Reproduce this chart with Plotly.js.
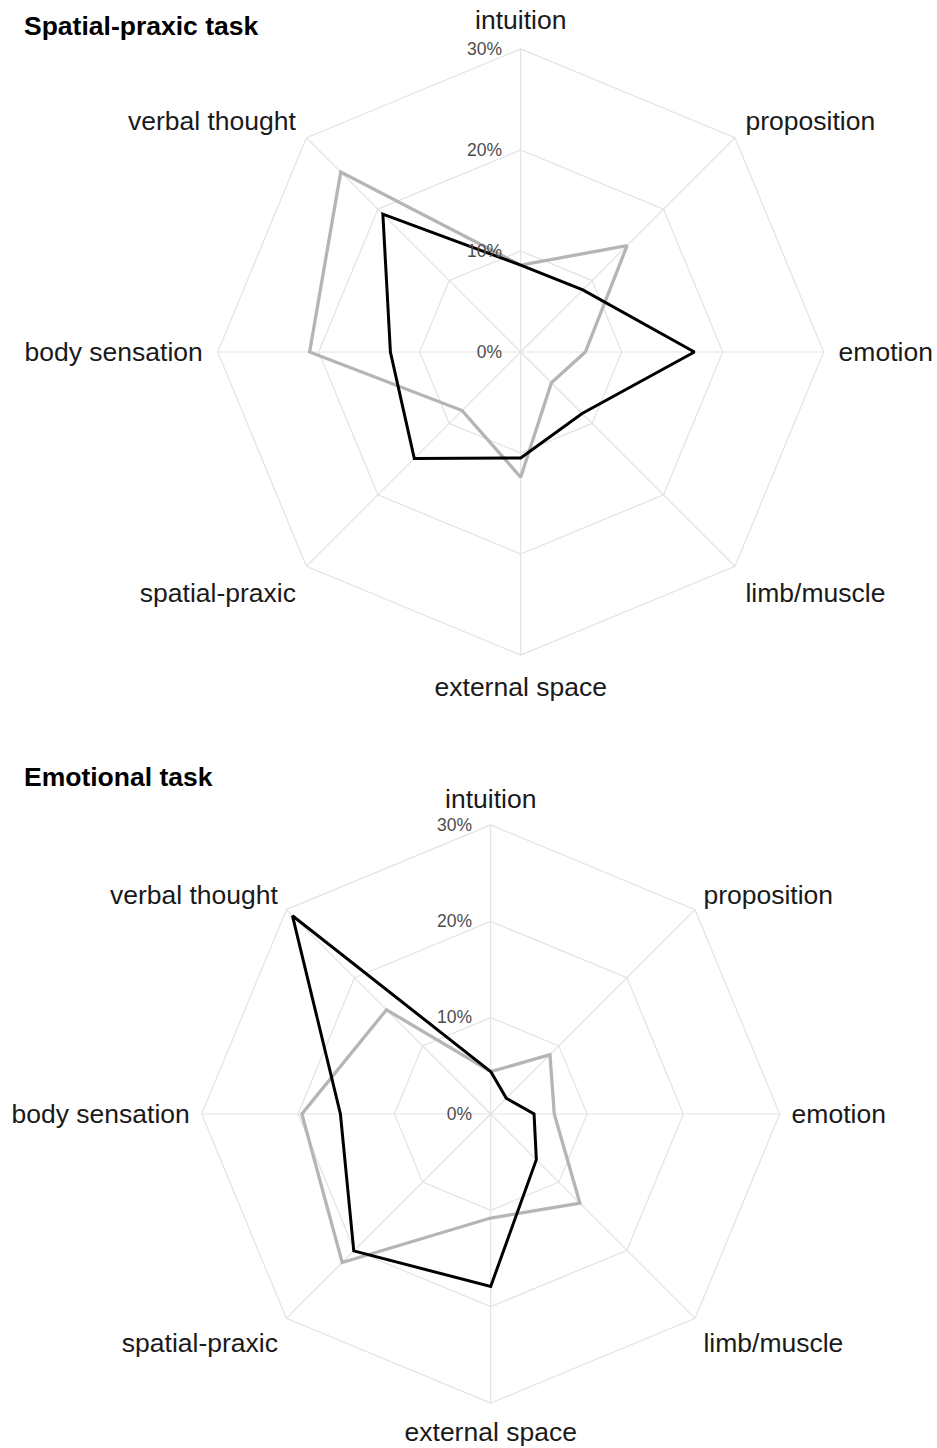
<!DOCTYPE html>
<html>
<head>
<meta charset="utf-8">
<script src="https://cdn.plot.ly/plotly-3.0.1.min.js"></script>
<style>
  html, body { margin: 0; padding: 0; background: #fff; }
  #chart { width: 937px; height: 1448px; }
</style>
</head>
<body>
<div id="chart"></div>
<script>
// ---- data ----
const categories = ['intuition', 'proposition', 'emotion', 'limb/muscle', 'external space', 'spatial-praxic', 'body sensation', 'verbal thought'];
const spatialBlack = [8.6, 8.7, 17.2, 8.6, 10.5, 14.9, 12.9, 19.3];
const spatialGray = [8.6, 14.9, 6.4, 4.3, 12.4, 8.2, 20.9, 25.2];
const emotionalBlack = [4.4, 2.3, 4.5, 6.7, 17.9, 20.1, 15.6, 29.1];
const emotionalGray = [4.4, 8.7, 6.6, 13.1, 10.8, 21.8, 19.6, 15.3];
const radialTickVals = [0, 10, 20, 30];
const radialTickText = ['0%', '10%', '20%', '30%'];
const panelTitles = ['Spatial-praxic task', 'Emotional task'];

// ---- helpers ----
const close = arr => arr.concat([arr[0]]);
const FONT = '"Liberation Sans", Arial, Helvetica, sans-serif';
const GRID = '#e3e3e3';

function series(values, color, width, subplot) {
  return {
    type: 'scatterpolar',
    mode: 'lines',
    r: close(values),
    theta: close(categories),
    line: { color: color, width: width },
    subplot: subplot,
    hoverinfo: 'skip',
    showlegend: false
  };
}

const data = [
  series(spatialGray, '#b5b5b5', 3.3, 'polar'),
  series(spatialBlack, '#000000', 3, 'polar'),
  series(emotionalGray, '#b5b5b5', 3.3, 'polar2'),
  series(emotionalBlack, '#000000', 3, 'polar2')
];

function polarLayout(xd, yd, labelGap) {
  return {
    domain: { x: xd, y: yd },
    gridshape: 'linear',
    bgcolor: 'rgba(0,0,0,0)',
    radialaxis: {
      range: [0, 30],
      tickvals: radialTickVals,
      ticktext: radialTickText,
      angle: 90,
      side: 'counterclockwise',
      showline: false,
      ticks: 'outside',
      ticklen: 12,
      tickcolor: 'rgba(0,0,0,0)',
      gridcolor: GRID,
      gridwidth: 1.2,
      tickfont: { family: FONT, size: 17.5, color: '#4d4d4d' },
      tickangle: 90
    },
    angularaxis: {
      type: 'category',
      categoryarray: categories,
      rotation: 90,
      direction: 'clockwise',
      showline: true,
      linecolor: GRID,
      linewidth: 1.2,
      gridcolor: GRID,
      gridwidth: 1.2,
      ticks: 'outside',
      ticklen: labelGap,
      tickcolor: 'rgba(0,0,0,0)',
      tickfont: { family: FONT, size: 26.5, color: '#1a1a1a' }
    }
  };
}

const W = 937, H = 1448;
function dom(cx, cy, r) {
  return {
    x: [(cx - r) / W, (cx + r) / W],
    y: [1 - (cy + r) / H, 1 - (cy - r) / H]
  };
}
const d1 = dom(520.7, 352, 303);
const d2 = dom(490.7, 1114, 289);

const layout = {
  width: W,
  height: H,
  margin: { l: 0, r: 0, t: 0, b: 0 },
  paper_bgcolor: '#ffffff',
  plot_bgcolor: '#ffffff',
  showlegend: false,
  polar: polarLayout(d1.x, d1.y, 9),
  polar2: polarLayout(d2.x, d2.y, 6),
  annotations: [
    {
      text: '<b>' + panelTitles[0] + '</b>', xref: 'paper', yref: 'paper',
      x: 22 / W, y: 1 - 26 / H, xanchor: 'left', yanchor: 'middle', showarrow: false,
      font: { family: FONT, size: 26.5, color: '#000' }
    },
    {
      text: '<b>' + panelTitles[1] + '</b>', xref: 'paper', yref: 'paper',
      x: 22 / W, y: 1 - 777 / H, xanchor: 'left', yanchor: 'middle', showarrow: false,
      font: { family: FONT, size: 26.5, color: '#000' }
    }
  ]
};

Plotly.newPlot('chart', data, layout, { staticPlot: true, displayModeBar: false });
</script>
</body>
</html>
